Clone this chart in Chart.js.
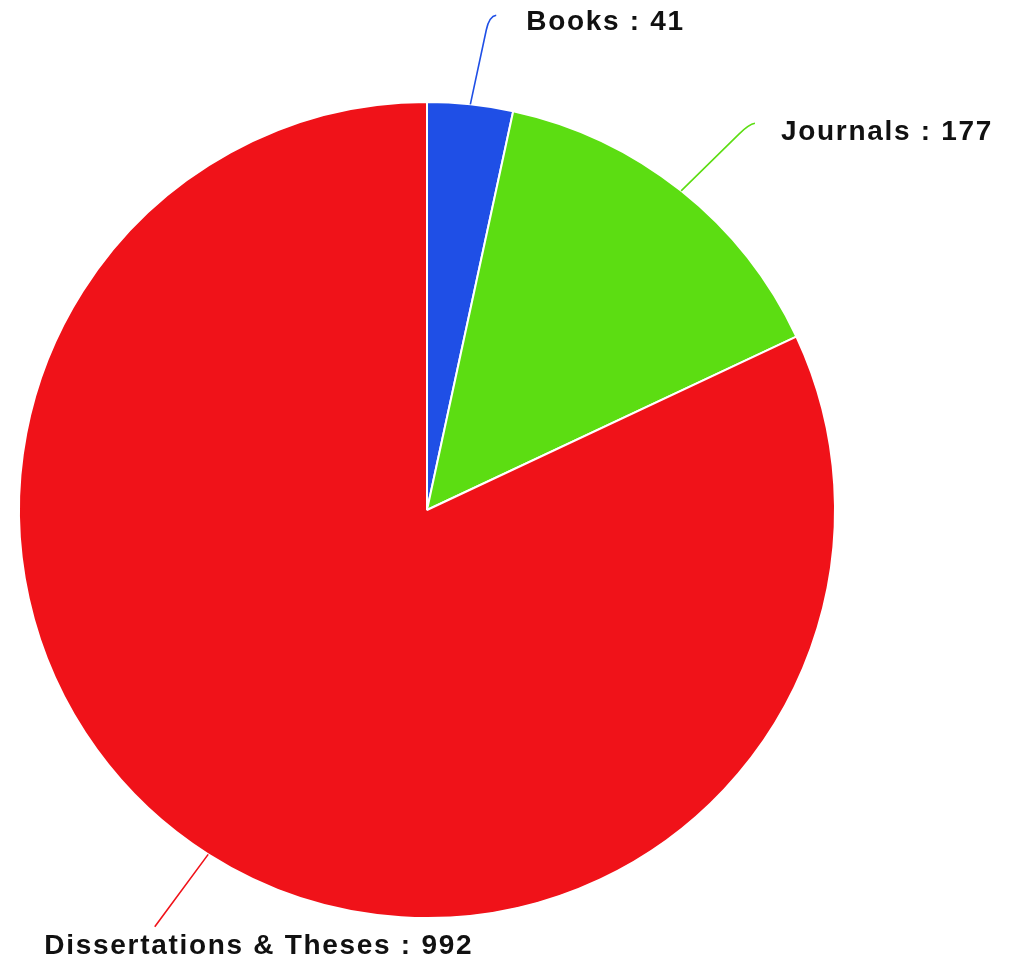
<!DOCTYPE html>
<html>
<head>
<meta charset="utf-8">
<script src="https://cdn.jsdelivr.net/npm/chart.js@4.4.1/dist/chart.umd.min.js"></script>
<style>
html,body{margin:0;padding:0;background:#fff;}
#wrap{width:1010px;height:962px;position:relative;}
</style>
</head>
<body>
<div id="wrap"><canvas id="c" width="1010" height="962"></canvas></div>
<script>
const categories = ['Books', 'Journals', 'Dissertations & Theses'];
const counts = [41, 177, 992];
const sliceColors = ['#1f4fe6', '#5cdd12', '#f01219'];

// leader/label styling per slice (not data)
const leaderStyle = [
  {delta: 6, len: 90, hook: 7, side: 'right', dx: 30, dy: 7},
  {delta: 7, len: 95, hook: 6, side: 'right', dx: 26, dy: 9},
  {delta: 4, len: 90, hook: 0, side: 'below', dx: 104, dy: 19}
];

const labelPlugin = {
  id: 'leaderLabels',
  afterDatasetsDraw(chart) {
    const ctx = chart.ctx;
    const meta = chart.getDatasetMeta(0);
    meta.data.forEach((arc, i) => {
      const p = arc.getProps(['x', 'y', 'startAngle', 'endAngle', 'outerRadius'], true);
      const mid = (p.startAngle + p.endAngle) / 2;
      const st = leaderStyle[i];
      const sx = p.x + Math.cos(mid) * p.outerRadius;
      const sy = p.y + Math.sin(mid) * p.outerRadius;
      const a = mid + st.delta * Math.PI / 180;
      const dxv = Math.cos(a), dyv = Math.sin(a);
      const L1 = st.len - 14;
      const p1x = sx + dxv * L1, p1y = sy + dyv * L1;
      const cx = sx + dxv * st.len, cy = sy + dyv * st.len;
      const sign = Math.cos(mid) >= 0 ? 1 : -1;
      const ex = cx + sign * st.hook, ey = cy - (st.hook ? 1 : 0);
      ctx.save();
      ctx.strokeStyle = sliceColors[i];
      ctx.lineWidth = 1.6;
      ctx.beginPath();
      ctx.moveTo(sx, sy);
      ctx.lineTo(p1x, p1y);
      if (st.hook) ctx.quadraticCurveTo(cx, cy, ex, ey);
      else ctx.lineTo(cx, cy);
      ctx.stroke();
      ctx.fillStyle = '#111';
      ctx.font = 'bold 28px "Liberation Sans", Arial, sans-serif';
      try { ctx.letterSpacing = '1.7px'; } catch (e) {}
      ctx.textBaseline = 'middle';
      const txt = categories[i] + ' : ' + counts[i];
      if (st.side === 'right') {
        ctx.textAlign = 'left';
        ctx.fillText(txt, ex + st.dx, ey + st.dy);
      } else {
        ctx.textAlign = 'center';
        ctx.fillText(txt, cx + st.dx, cy + st.dy);
      }
      ctx.restore();
    });
  }
};

new Chart(document.getElementById('c'), {
  type: 'pie',
  data: {
    labels: categories,
    datasets: [{
      data: counts,
      backgroundColor: sliceColors,
      borderColor: '#ffffff',
      borderWidth: 2
    }]
  },
  options: {
    responsive: false,
    animation: false,
    layout: {padding: {left: 18, right: 174, top: 101, bottom: 43}},
    plugins: {legend: {display: false}, tooltip: {enabled: false}}
  },
  plugins: [labelPlugin]
});
</script>
</body>
</html>
